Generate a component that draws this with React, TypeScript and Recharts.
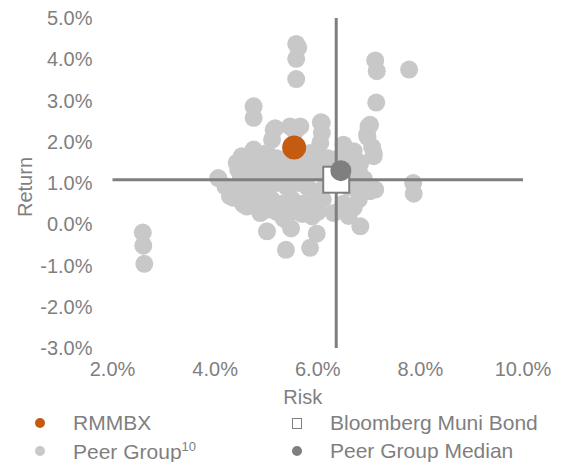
import { ScatterChart, Scatter, XAxis, YAxis, ReferenceLine } from "recharts";

const X_TICKS = [2, 4, 6, 8, 10];
const Y_TICKS = [-3, -2, -1, 0, 1, 2, 3, 4, 5];

// [risk %, return %]
const RMMBX = [{ risk: 5.54, ret: 1.86 }];
const BLOOMBERG = [{ risk: 6.36, ret: 1.08 }];
const PEER_MEDIAN = [{ risk: 6.45, ret: 1.3 }];

const PEER_GROUP: [number, number][] = [
  [2.59, -0.2], [2.6, -0.52], [2.62, -0.96],
  [5.58, 4.37], [5.62, 4.28], [5.58, 4.01], [5.58, 3.52],
  [7.12, 3.97], [7.15, 3.71], [7.78, 3.75], [7.14, 2.95], [6.99, 2.37], [6.97, 2.12],
  [7.02, 2.41], [7.06, 1.87], [7.09, 1.65], [7.09, 1.73],
  [7.86, 1.0], [7.87, 0.74], [7.12, 0.84], [6.89, 0.84], [7.02, 0.8],
  [4.75, 2.86], [4.75, 2.58], [4.06, 1.12], [4.2, 0.92], [4.29, 0.68], [4.36, 0.64],
  [4.55, 0.48], [4.62, 0.43], [4.88, 0.31], [4.88, 0.27], [5.33, 0.15], [5.37, 0.11],
  [5.01, -0.17], [5.38, -0.62], [5.85, -0.57], [5.98, -0.23], [5.48, -0.1],
  [5.89, 0.19], [6.31, 0.27], [6.83, -0.05],
  [5.14, 2.29], [5.17, 2.33], [5.46, 2.37], [5.56, 2.25], [5.66, 2.37], [6.08, 2.46],
  [6.06, 2.47], [6.08, 2.21], [6.05, 1.97], [5.85, 1.73], [6.5, 1.93], [6.7, 1.77],
  [6.96, 2.17], [6.83, 1.49], [5.11, 2.05], [5.01, 1.73], [4.75, 1.81], [4.52, 1.65],
  [4.42, 1.49], [4.45, 1.32],
  [4.6, 1.4], [4.8, 1.5], [5.0, 1.5], [5.2, 1.6], [5.4, 1.6], [5.6, 1.5], [5.8, 1.5],
  [6.0, 1.6], [6.2, 1.6], [6.4, 1.6], [6.6, 1.5], [6.8, 1.3],
  [4.5, 1.1], [4.7, 1.2], [4.9, 1.2], [5.1, 1.3], [5.3, 1.3], [5.5, 1.2], [5.7, 1.3],
  [5.9, 1.3], [6.1, 1.2], [6.6, 1.2], [6.9, 1.1],
  [4.4, 0.9], [4.6, 0.8], [4.8, 0.9], [5.0, 0.9], [5.2, 1.0], [5.4, 0.9], [5.6, 1.0],
  [5.8, 0.9], [6.0, 0.8], [6.6, 0.9], [6.8, 0.6],
  [4.7, 0.6], [4.9, 0.6], [5.1, 0.6], [5.3, 0.5], [5.5, 0.6], [5.7, 0.5], [5.9, 0.5],
  [6.1, 0.6], [6.5, 0.5], [6.7, 0.4],
  [5.0, 0.35], [5.2, 0.3], [5.5, 0.3], [5.7, 0.25], [6.0, 0.3], [6.6, 0.2],
];

const peerData = PEER_GROUP.map(([risk, ret]) => ({ risk, ret }));

const FONT = "'Liberation Sans', Arial, sans-serif";
const GREY_TEXT = "#7f7f7f";
const ORANGE = "#c55a11";
const PEER = "#c8c8c8";
const DARK = "#7f7f7f";

const TICK = { fontSize: 20, fill: GREY_TEXT, fontFamily: FONT };
const pct = (v: number) => `${v.toFixed(1)}%`;

const dot = (r: number, fill: string) => (p: any) => <circle cx={p.cx} cy={p.cy} r={r} fill={fill} />;
const square = (p: any) => (
  <rect x={p.cx - 13} y={p.cy - 13} width={26} height={26} fill="#fff" stroke={DARK} strokeWidth={2} />
);

function LegendItem({ marker, children }: { marker: React.ReactNode; children: React.ReactNode }) {
  return (
    <div style={{ display: "flex", alignItems: "center", height: 28 }}>
      <div style={{ width: 10, display: "flex", justifyContent: "center" }}>{marker}</div>
      <span style={{ marginLeft: 28 }}>{children}</span>
    </div>
  );
}

const legendDot = (c: string) => <div style={{ width: 10, height: 10, borderRadius: 5, background: c }} />;

export default function App() {
  return (
    <div style={{ position: "absolute", left: 0, top: 0, width: 567, height: 462, background: "#fff", fontFamily: FONT }}>
      <ScatterChart width={567} height={462} margin={{ top: 18, right: 44, left: 0, bottom: 54 }}>
        <XAxis
          type="number"
          dataKey="risk"
          domain={[2, 10]}
          ticks={X_TICKS}
          tickFormatter={pct}
          tick={TICK}
          tickLine={false}
          axisLine={false}
          tickSize={0}
          tickMargin={14}
          height={60}
          label={{ value: "Risk", position: "insideBottom", offset: 4, dx: -15, fill: GREY_TEXT, fontSize: 20, fontFamily: FONT }}
        />
        <YAxis
          type="number"
          dataKey="ret"
          domain={[-3, 5]}
          ticks={Y_TICKS}
          tickFormatter={pct}
          tick={TICK}
          tickLine={false}
          axisLine={false}
          tickSize={0}
          tickMargin={20}
          width={112.5}
          label={{ value: "Return", angle: -90, position: "insideLeft", offset: 25, dy: 4, fill: GREY_TEXT, fontSize: 20, fontFamily: FONT, style: { textAnchor: "middle" } }}
        />
        <Scatter data={peerData} shape={dot(9, PEER)} isAnimationActive={false} zIndex={600} />
        <ReferenceLine x={BLOOMBERG[0].risk} stroke={DARK} strokeWidth={3} zIndex={650} />
        <ReferenceLine y={BLOOMBERG[0].ret} stroke={DARK} strokeWidth={3} zIndex={650} />
        <Scatter data={RMMBX} shape={dot(12, ORANGE)} isAnimationActive={false} zIndex={700} />
        <Scatter data={BLOOMBERG} shape={square} isAnimationActive={false} zIndex={700} />
        <Scatter data={PEER_MEDIAN} shape={dot(10.5, DARK)} isAnimationActive={false} zIndex={710} />
      </ScatterChart>
      <div
        style={{
          position: "absolute",
          left: 35,
          top: 409,
          display: "grid",
          gridTemplateColumns: "257px 275px",
          fontSize: 21,
          color: GREY_TEXT,
        }}
      >
        <LegendItem marker={legendDot(ORANGE)}>RMMBX</LegendItem>
        <LegendItem marker={<div style={{ width: 9, height: 9, border: `1.5px solid ${DARK}`, background: "#fff" }} />}>
          Bloomberg Muni Bond
        </LegendItem>
        <LegendItem marker={legendDot(PEER)}>
          Peer Group<sup style={{ fontSize: 13 }}>10</sup>
        </LegendItem>
        <LegendItem marker={legendDot(DARK)}>Peer Group Median</LegendItem>
      </div>
    </div>
  );
}
